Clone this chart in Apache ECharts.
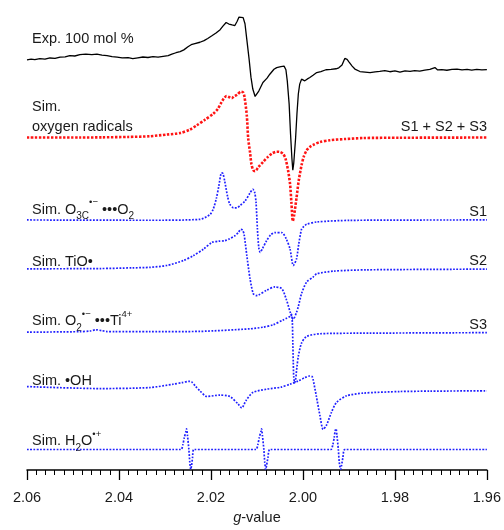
<!DOCTYPE html>
<html>
<head>
<meta charset="utf-8">
<script src="https://cdn.jsdelivr.net/npm/echarts@6/dist/echarts.min.js"></script>
<style>
  html, body { margin: 0; padding: 0; background: #fff; }
  #chart { width: 504px; height: 530px; }
</style>
</head>
<body>
<div id="chart"></div>
<script>
// g-value axis ticks
const gTicks = [2.06, 2.04, 2.02, 2.00, 1.98, 1.96];

// spectra: [g-value, signal] (signal in arbitrary units, 0 = baseline)
const expData = [
  [2.06,-0.5],[2.0591,0.2],[2.0583,-0.3],[2.0572,0.7],[2.0561,0.2],[2.055,1.4],[2.0539,1.1],[2.0528,2.2],
  [2.0517,2.6],[2.0507,3.8],[2.0496,3.4],[2.0485,4.7],[2.0472,5.4],[2.0459,4.8],[2.0448,5.2],[2.0437,4.3],
  [2.0426,3.8],[2.0415,2.7],[2.0404,2.2],[2.0393,1.5],[2.038,1.8],[2.037,0.8],[2.0359,1.6],[2.0348,2.4],
  [2.0337,1.9],[2.0326,2.8],[2.0315,2.2],[2.0304,3.1],[2.0293,3.8],[2.0285,5.2],[2.0276,6.7],[2.0267,7.9],
  [2.0259,9.6],[2.025,12.8],[2.0243,14.8],[2.0235,15.9],[2.0224,17.3],[2.0215,18.9],[2.0207,21.1],[2.0198,23.8],
  [2.0189,26.6],[2.018,30],[2.0174,33.6],[2.0167,37.3],[2.0161,35.7],[2.0154,34.8],[2.0148,34.2],[2.0143,38.5],
  [2.0139,42.8],[2.0135,44.3],[2.013,42.2],[2.0126,36],[2.0122,20],[2.0117,0],[2.0113,-18],[2.0109,-30],
  [2.0104,-37.5],[2.01,-35.5],[2.0096,-32],[2.0087,-23.3],[2.0078,-19],[2.0072,-15],[2.0063,-10],[2.0057,-8.3],
  [2.0048,-7.3],[2.0041,-6.8],[2.0037,-10.5],[2.0034,-22],[2.003,-45],[2.0027,-75],[2.0024,-100],[2.0022,-112],
  [2.002,-105],[2.0016,-80],[2.0013,-55],[2.001,-35],[2.0007,-25],[2.0003,-20],[2.0,-19.3],[1.9996,-21.7],
  [1.9991,-20],[1.9985,-18.3],[1.9978,-16],[1.997,-13.3],[1.9961,-12.3],[1.995,-10.5],[1.9939,-10.2],[1.9928,-9.5],
  [1.9922,-8.5],[1.9915,-5.8],[1.9909,1],[1.9904,0],[1.99,-2.5],[1.9893,-6.8],[1.9887,-9.8],[1.9876,-12.3],
  [1.9865,-12.8],[1.9854,-13.5],[1.9843,-12.6],[1.9833,-12.2],[1.9822,-11.4],[1.9811,-12.5],[1.98,-11.6],[1.9789,-12.8],
  [1.9778,-11.7],[1.9767,-12.2],[1.9757,-11.3],[1.9746,-11.8],[1.9735,-10.9],[1.9724,-10.1],[1.9713,-8.3],[1.9707,-10.7],
  [1.9698,-10.3],[1.9687,-11],[1.9676,-10.2],[1.9665,-9.8],[1.9654,-10.6],[1.9643,-10.1],[1.9633,-10.9],[1.9622,-10.2],
  [1.9611,-10.7],[1.96,-10.3]
];

const sumData = [
  [2.06,0],[2.0485,0],[2.0437,0.2],[2.038,0.6],[2.0333,1.3],[2.0296,3],[2.0267,4.5],[2.0246,8],[2.0231,12.3],
  [2.0213,18],[2.0195,24],[2.0185,29],[2.0177,35.7],[2.0172,39.5],[2.0166,42],[2.0161,41],[2.0155,39.7],
  [2.015,41.5],[2.0143,43.3],[2.0135,46.3],[2.013,45.5],[2.0127,41],[2.0122,22],[2.0119,-1],[2.0115,-15],
  [2.0112,-27],[2.0108,-33],[2.0104,-34],[2.0097,-30],[2.0086,-24.3],[2.0076,-19.5],[2.0067,-16],[2.0057,-14.3],
  [2.005,-14.5],[2.0043,-16.5],[2.0038,-21],[2.0032,-34],[2.0028,-47],[2.0025,-66],[2.0022,-84.5],[2.0019,-78],
  [2.0014,-61],[2.0009,-43],[2.0003,-28],[1.9998,-19],[1.9992,-13],[1.9985,-9.5],[1.9978,-7.5],[1.9963,-4.5],
  [1.9941,-2.7],[1.9909,-1.5],[1.9869,-0.5],[1.9789,-0.2],[1.96,0]
];

const s1Data = [
  [2.06,0],[2.0333,-0.3],[2.0224,0.6],[2.0202,5.6],[2.0195,11],[2.0188,22.3],[2.0183,34],[2.0177,47.5],
  [2.0174,47],[2.017,39],[2.0164,24],[2.0159,16],[2.0151,12.3],[2.0144,12.3],[2.0137,14.5],[2.0126,19],
  [2.0115,27.3],[2.0109,31],[2.0105,28],[2.0102,18],[2.0099,-9],[2.0096,-28],[2.0093,-32.7],[2.0088,-29],
  [2.0079,-21],[2.007,-15],[2.0061,-12.7],[2.0046,-12.7],[2.0036,-19.4],[2.0028,-29.4],[2.0021,-46],[2.0014,-39.4],
  [2.0009,-24],[2.0003,-9.4],[1.9998,-6.5],[1.9992,-4.4],[1.997,-2],[1.9898,-0.4],[1.96,0]
];

const s2Data = [
  [2.06,0],[2.0441,0.3],[2.037,1],[2.0333,1.5],[2.0296,3.4],[2.026,8.4],[2.0238,13.4],[2.0216,20],[2.0198,26.7],
  [2.0183,28],[2.017,28.4],[2.0159,30.5],[2.0148,33.4],[2.014,37],[2.0135,40],[2.0131,39],[2.0128,35],
  [2.0122,13.4],[2.0115,-10],[2.0108,-25],[2.0101,-27],[2.0097,-26.6],[2.0079,-21.6],[2.0061,-18.3],[2.0046,-20],
  [2.0036,-31],[2.0028,-43.3],[2.0021,-51],[2.0014,-44],[2.001,-38],[2.0003,-25],[1.9992,-13.3],[1.9978,-8.3],
  [1.997,-5],[1.9933,-2.3],[1.9861,-1],[1.96,-0.3]
];

const s3Data = [
  [2.06,0],[2.0485,0.5],[2.0463,1.2],[2.045,2.4],[2.0437,1.5],[2.0426,0.6],[2.041,0.5],[2.0333,0.5],[2.0224,0.8],
  [2.0115,3.4],[2.0087,5],[2.0065,7.4],[2.0043,12.4],[2.0036,14],[2.0028,16],[2.0025,18],[2.0023,10],[2.0022,-10],
  [2.0021,-30],[2.002,-45],[2.0018,-51],[2.0016,-48],[2.0013,-35],[2.001,-24.3],[2.0003,-11],[1.9992,-4.3],
  [1.9963,-1.6],[1.9854,-1],[1.96,-0.5]
];

const ohData = [
  [2.06,0],[2.0441,-2],[2.0333,-1],[2.0282,2.4],[2.0263,4],[2.0248,5.3],[2.0242,4.7],[2.0233,0],[2.0224,-4.3],
  [2.0209,-10],[2.0181,-8.6],[2.0159,-10],[2.0141,-17.6],[2.0133,-21.6],[2.0124,-14.3],[2.0109,-6],[2.0079,-2.6],
  [2.0048,-0.6],[2.0028,2.4],[2.001,5.7],[1.9996,9],[1.9985,10.7],[1.998,10],[1.9978,7.4],[1.9971,-9.3],
  [1.9963,-29.3],[1.9956,-43.3],[1.9949,-39.3],[1.9938,-26],[1.9927,-16],[1.9905,-9.3],[1.9869,-6.6],
  [1.9789,-5],[1.9724,-4.6],[1.96,-4.3]
];

const h2oData = [
  [2.06,0],[2.0265,0],[2.0261,5],[2.0258,12],[2.0254,19],[2.0253,21],[2.0251,14],[2.0248,0],[2.0246,-13],
  [2.0244,-20],[2.0242,-16],[2.024,-8],[2.0237,0],
  [2.0102,0],[2.0098,5],[2.0095,12],[2.0091,19],[2.009,21],[2.0088,14],[2.0085,0],[2.0083,-13],
  [2.0081,-20],[2.0079,-16],[2.0076,-8],[2.0072,0],
  [1.9939,0],[1.9935,5],[1.9932,12],[1.993,19],[1.9928,21],[1.9926,14],[1.9923,0],[1.9921,-13],
  [1.9918,-20],[1.9916,-16],[1.9913,-8],[1.9909,0],[1.96,0]
];

// vertical stacking of the traces
const offsets = [415, 336, 252.7, 203.3, 139.3, 84.3, 20.7];

const font = 'Liberation Sans, Arial, Helvetica, sans-serif';
const ink = '#1a1a1a';
const blue = '#1f1fff';

function shift(data, off) {
  return data.map(p => [p[0], p[1] + off]);
}

function trace(data, off, color, width, dash, smooth) {
  return {
    type: 'line',
    data: shift(data, off),
    showSymbol: false,
    smooth: smooth,
    lineStyle: { color: color, width: width, type: dash },
    silent: true
  };
}

const rich = {
  m: { fontSize: 14.5, lineHeight: 24, fontFamily: font, fill: ink, color: ink },
  b: { fontSize: 10, lineHeight: 16, verticalAlign: 'bottom', fontFamily: font, fill: ink, color: ink },
  p: { fontSize: 9.5, lineHeight: 8, verticalAlign: 'top', fontFamily: font, fill: ink, color: ink }
};

function label(x, y, text, align) {
  return {
    type: 'text',
    x: x,
    y: y,
    silent: true,
    style: {
      text: text,
      rich: rich,
      align: align || 'left',
      verticalAlign: 'middle',
      fill: ink
    }
  };
}

const chart = echarts.init(document.getElementById('chart'));
chart.setOption({
  animation: false,
  backgroundColor: '#fff',
  grid: { left: 27, right: 17, top: 0, bottom: 55 },
  xAxis: {
    type: 'value',
    min: 1.96,
    max: 2.06,
    interval: 0.02,
    inverse: true,
    name: '{i|g}-value',
    nameLocation: 'middle',
    nameGap: 40,
    nameTextStyle: {
      fontFamily: font, fontSize: 14.5, color: ink,
      rich: { i: { fontStyle: 'italic', fontFamily: font, fontSize: 14.5, color: ink } }
    },
    axisLine: { lineStyle: { color: '#000', width: 1.5 } },
    axisTick: { length: 10, lineStyle: { color: '#000', width: 1.3 } },
    minorTick: { show: true, splitNumber: 10, length: 5, lineStyle: { color: '#000', width: 1 } },
    splitLine: { show: false },
    axisLabel: {
      margin: 20,
      fontFamily: font,
      fontSize: 14.5,
      color: ink,
      formatter: v => {
        const t = gTicks.find(g => Math.abs(g - v) < 1e-6);
        return t !== undefined ? t.toFixed(2) : '';
      }
    }
  },
  yAxis: { type: 'value', min: 0, max: 475, show: false },
  series: [
    trace(expData, offsets[0], '#000', 1.3, 'solid', false),
    trace(sumData, offsets[1], '#ff1414', 2.6, [2.4, 1.6], 0.25),
    trace(s1Data, offsets[2], blue, 1.7, [1.8, 1.5], 0.25),
    trace(s2Data, offsets[3], blue, 1.7, [1.8, 1.5], 0.25),
    trace(s3Data, offsets[4], blue, 1.7, [1.8, 1.5], 0.25),
    trace(ohData, offsets[5], blue, 1.7, [1.8, 1.5], 0.25),
    trace(h2oData, offsets[6], blue, 1.7, [1.8, 1.5], 0.2)
  ],
  graphic: [
    label(32, 38.5, '{m|Exp. 100 mol %}'),
    label(32, 107.3, '{m|Sim.}'),
    label(32, 126.7, '{m|oxygen radicals}'),
    label(487, 126.7, '{m|S1 + S2 + S3}', 'right'),
    label(32, 209.5, '{m|Sim. O}{b|3C}{p|•−}{m| •••O}{b|2}'),
    label(487, 211.5, '{m|S1}', 'right'),
    label(32, 261.5, '{m|Sim. TiO•}'),
    label(487, 261, '{m|S2}', 'right'),
    label(32, 321, '{m|Sim. O}{b|2}{p|•−}{m| •••Ti}{p|4+}'),
    label(487, 325, '{m|S3}', 'right'),
    label(32, 381, '{m|Sim. •OH}'),
    label(32, 441, '{m|Sim. H}{b|2}{m|O}{p|•+}')
  ]
});
</script>
</body>
</html>
